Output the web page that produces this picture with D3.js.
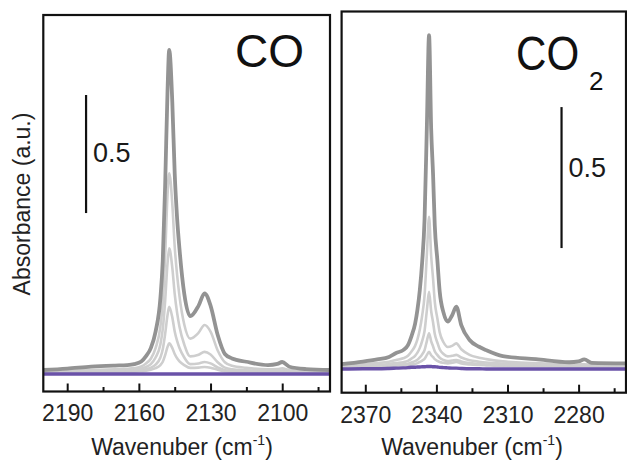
<!DOCTYPE html>
<html><head><meta charset="utf-8">
<script src="https://cdn.jsdelivr.net/npm/d3@7"></script>
<style>
html,body{margin:0;padding:0;background:#fff;}
svg{display:block;font-family:"Liberation Sans",Arial,Helvetica,sans-serif;}
</style></head>
<body>
<svg id="chart" width="627" height="464"></svg>
<script>
// ---------- DATA ----------
const wnCO = [2200,2190,2180,2170,2165,2162,2159,2157,2155,2153,2151,2150,2149,2148,2147.3,2146,2145,2144,2143,2141,2138.5,2135,2132.5,2130,2127,2124,2121,2115,2106,2102,2100,2097,2090,2080];
const coDark = [0.017,0.023,0.031,0.036,0.038,0.042,0.053,0.076,0.11,0.18,0.32,0.48,0.80,1.20,1.373,1.15,0.85,0.66,0.53,0.34,0.245,0.29,0.342,0.29,0.165,0.085,0.066,0.052,0.038,0.043,0.051,0.031,0.021,0.017];
const coL1 = [0.012,0.014,0.017,0.020,0.022,0.025,0.032,0.045,0.065,0.11,0.20,0.30,0.50,0.76,0.85,0.72,0.54,0.42,0.33,0.21,0.15,0.175,0.208,0.18,0.10,0.05,0.035,0.026,0.020,0.021,0.024,0.017,0.013,0.012];
const coL2 = [0.010,0.011,0.013,0.015,0.016,0.018,0.022,0.030,0.042,0.07,0.125,0.19,0.31,0.47,0.533,0.45,0.34,0.26,0.20,0.125,0.075,0.082,0.094,0.083,0.05,0.027,0.020,0.016,0.013,0.013,0.015,0.012,0.010,0.010];
const coL3 = [0.009,0.009,0.010,0.011,0.012,0.013,0.016,0.020,0.027,0.04,0.07,0.105,0.17,0.25,0.285,0.24,0.18,0.14,0.11,0.07,0.042,0.045,0.051,0.045,0.028,0.016,0.013,0.011,0.010,0.010,0.011,0.009,0.009,0.009];
const coL4 = [0.008,0.008,0.009,0.009,0.010,0.010,0.012,0.014,0.018,0.025,0.038,0.052,0.08,0.115,0.13,0.11,0.085,0.067,0.054,0.038,0.026,0.027,0.030,0.027,0.018,0.012,0.010,0.009,0.008,0.008,0.009,0.008,0.008,0.008];
const coPurple = [0,0,0,0,0,0,0,0,0,0,0,0,0,0,0,0,0,0,0,0,0,0,0,0,0,0,0,0,0,0,0,0,0,0];

const wnCO2 = [2380,2371,2365,2360,2357,2354,2352,2350.5,2349,2348,2347,2346,2345,2344,2343.1,2342.2,2341.4,2340.7,2339.6,2338.6,2337,2335.2,2333.4,2331.6,2329.5,2326,2322,2319,2312,2298,2284,2280,2277.6,2274.5,2260];
const co2Dark = [0.017,0.026,0.034,0.043,0.057,0.067,0.085,0.117,0.16,0.21,0.28,0.38,0.53,0.87,1.184,0.85,0.688,0.511,0.387,0.274,0.20,0.168,0.19,0.221,0.156,0.103,0.079,0.067,0.046,0.035,0.024,0.027,0.034,0.022,0.020];
const co2L1 = [0.013,0.017,0.021,0.026,0.032,0.038,0.047,0.062,0.082,0.105,0.14,0.19,0.26,0.41,0.54,0.40,0.32,0.24,0.18,0.13,0.095,0.078,0.082,0.091,0.07,0.05,0.04,0.035,0.027,0.021,0.016,0.016,0.017,0.015,0.014];
const co2L2 = [0.011,0.013,0.015,0.018,0.021,0.024,0.029,0.037,0.047,0.058,0.075,0.10,0.135,0.21,0.274,0.205,0.165,0.125,0.094,0.07,0.053,0.045,0.047,0.05,0.041,0.031,0.026,0.023,0.019,0.016,0.013,0.013,0.013,0.012,0.012];
const co2L3 = [0.010,0.011,0.012,0.013,0.015,0.017,0.019,0.023,0.028,0.033,0.041,0.052,0.067,0.10,0.127,0.098,0.08,0.063,0.05,0.04,0.032,0.028,0.03,0.032,0.027,0.021,0.018,0.016,0.014,0.012,0.011,0.011,0.011,0.010,0.010];
const co2L4 = [0.009,0.010,0.010,0.011,0.012,0.013,0.014,0.016,0.018,0.021,0.025,0.030,0.036,0.05,0.061,0.049,0.042,0.035,0.029,0.025,0.022,0.020,0.022,0.025,0.020,0.016,0.014,0.013,0.011,0.010,0.009,0.009,0.009,0.009,0.009];
const co2Purple = [0,0.001,0.001,0.002,0.003,0.004,0.005,0.006,0.006,0.007,0.007,0.008,0.008,0.009,0.009,0.009,0.008,0.008,0.007,0.006,0.005,0.004,0.003,0.003,0.002,0.001,0.001,0,0,0,0,0,0,0,0];

const coMajorTicks = [2190,2160,2130,2100];
const coMinorTicks = [2175,2145,2115,2085];
const co2MajorTicks = [2370,2340,2310,2280];
const co2MinorTicks = [2355,2325,2295,2265];

const coScaleBar = [0.682,1.182];   // 0.5 a.u.
const co2ScaleBar = [0.429,0.929];  // 0.5 a.u.
const scaleBarLabel = "0.5";

// ---------- DRAW ----------
const svg = d3.select("#chart");
const FONT = '"Liberation Sans",Arial,Helvetica,sans-serif';
const lightColor = "#cecece", darkColor = "#939393", purpleColor = "#6a52a8";

function panel(cfg){
  const x = d3.scaleLinear().domain(cfg.xDomain).range([cfg.left, cfg.right]);
  const y = d3.scaleLinear().domain(cfg.yDomain).range([cfg.bottom, cfg.top]);
  const g = svg.append("g");
  const clipId = "clip-" + cfg.id;
  svg.append("defs").append("clipPath").attr("id", clipId)
    .append("rect").attr("x", cfg.left).attr("y", cfg.top)
    .attr("width", cfg.right - cfg.left).attr("height", cfg.bottom - cfg.top);
  const plot = g.append("g").attr("clip-path", `url(#${clipId})`);
  const line = d3.line().x(d => x(d[0])).y(d => y(d[1])).curve(d3.curveMonotoneX);
  const mk = vals => cfg.wn.map((w, i) => [w, vals[i]]);
  [cfg.l4, cfg.l3, cfg.l2, cfg.l1].forEach(v => {
    plot.append("path").datum(mk(v)).attr("d", line)
      .attr("fill", "none").attr("stroke", lightColor).attr("stroke-width", 2.6)
      .attr("stroke-linejoin", "round");
  });
  plot.append("path").datum(mk(cfg.dark)).attr("d", line)
    .attr("fill", "none").attr("stroke", darkColor).attr("stroke-width", 3.8)
    .attr("stroke-linejoin", "round");
  plot.append("path").datum(mk(cfg.purple)).attr("d", line)
    .attr("fill", "none").attr("stroke", purpleColor).attr("stroke-width", 3.4);

  // axes
  const axMaj = d3.axisBottom(x).tickValues(cfg.major).tickSize(-8).tickPadding(13.5).tickFormat(d3.format("d"));
  const axMin = d3.axisBottom(x).tickValues(cfg.minor).tickSize(-4.5).tickFormat("");
  const ga = g.append("g").attr("transform", `translate(0,${cfg.bottom})`).call(axMaj);
  const gm = g.append("g").attr("transform", `translate(0,${cfg.bottom})`).call(axMin);
  [ga, gm].forEach(a => { a.select(".domain").remove(); a.selectAll("line").attr("stroke", "#111").attr("stroke-width", 2); });
  ga.selectAll("text").attr("font-family", FONT).attr("font-size", 23).attr("fill", "#222");

  // frame
  g.append("rect").attr("x", cfg.left).attr("y", cfg.top)
    .attr("width", cfg.right - cfg.left).attr("height", cfg.bottom - cfg.top)
    .attr("fill", "none").attr("stroke", "#111").attr("stroke-width", 2.2);

  // scale bar
  g.append("line").attr("x1", x(cfg.barWn)).attr("x2", x(cfg.barWn))
    .attr("y1", y(cfg.bar[0])).attr("y2", y(cfg.bar[1]))
    .attr("stroke", "#111").attr("stroke-width", 2.2);
  g.append("text").attr("x", x(cfg.barWn) + 7).attr("y", (y(cfg.bar[0]) + y(cfg.bar[1])) / 2 + cfg.barLabelDy)
    .attr("font-family", FONT).attr("font-size", 27).attr("fill", "#1a1a1a").text(scaleBarLabel);

  // x title
  const t = g.append("text").attr("x", cfg.titleX).attr("y", 455).attr("text-anchor", "middle")
    .attr("font-family", FONT).attr("font-size", 23).attr("fill", "#222");
  t.append("tspan").text("Wavenuber (cm");
  t.append("tspan").attr("font-size", 14).attr("dy", -10).text("-1");
  t.append("tspan").attr("dy", 10).text(")");
  return {x, y, g};
}

const p1 = panel({id:"co", xDomain:[2200,2080], yDomain:[-0.074,1.521], left:43.3, right:330, top:15, bottom:391.5,
  wn:wnCO, dark:coDark, l1:coL1, l2:coL2, l3:coL3, l4:coL4, purple:coPurple,
  major:coMajorTicks, minor:coMinorTicks, bar:coScaleBar, barWn:2182.1, barLabelDy:8, titleX:182});
const p2 = panel({id:"co2", xDomain:[2380,2260], yDomain:[-0.084,1.268], left:341.6, right:626, top:11.5, bottom:392.7,
  wn:wnCO2, dark:co2Dark, l1:co2L1, l2:co2L2, l3:co2L3, l4:co2L4, purple:co2Purple,
  major:co2MajorTicks, minor:co2MinorTicks, bar:co2ScaleBar, barWn:2287.2, barLabelDy:-1, titleX:472});

// y title
svg.append("text").attr("transform", "translate(29.5,204) rotate(-90)").attr("text-anchor", "middle")
  .attr("font-family", FONT).attr("font-size", 23).attr("fill", "#222").text("Absorbance (a.u.)");

// gas labels
svg.append("text").attr("x", 235).attr("y", 66.7).attr("font-family", FONT).attr("font-size", 46).attr("fill", "#111").text("CO");
svg.append("text").attr("transform", "translate(516,70) scale(0.86,1)").attr("font-family", FONT).attr("font-size", 49).attr("fill", "#111").text("CO");
svg.append("text").attr("x", 589).attr("y", 90).attr("font-family", FONT).attr("font-size", 26).attr("fill", "#111").text("2");
</script>
</body></html>
